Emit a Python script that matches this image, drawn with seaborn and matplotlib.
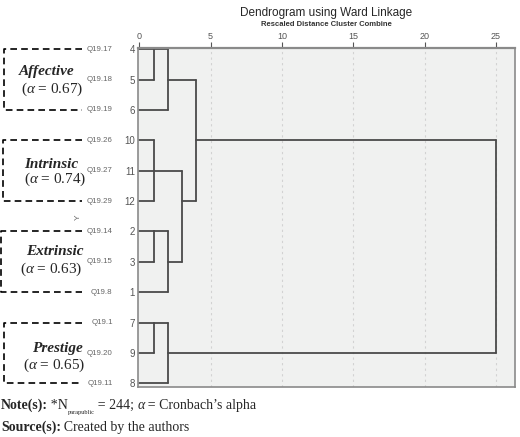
import numpy as np
import pandas as pd
import seaborn as sns
import matplotlib.pyplot as plt
from matplotlib import transforms

# leaves, top to bottom as in the SPSS output
leaf_ids = ["4", "5", "6", "10", "11", "12", "2", "3", "1", "7", "9", "8"]
item_labels = ["Q19.17", "Q19.18", "Q19.19", "Q19.26", "Q19.27", "Q19.29",
               "Q19.14", "Q19.15", "Q19.8", "Q19.1", "Q19.20", "Q19.11"]

# merges (SPSS style: node line drawn at the row of one leaf)
merge_names = ["m1", "m2", "m3", "m4", "m5", "m6", "m7", "m8", "m9", "m10"]
merge_children = [["4", "5"], ["m1", "6"], ["10", "11", "12"], ["2", "3"], ["m4", "1"],
                  ["7", "9"], ["m6", "8"], ["m3", "m5"], ["m2", "m8"], ["m9", "m7"]]
merge_dist = [1, 2, 1, 1, 2, 1, 2, 3, 4, 25]
merge_row = ["4", "5", "11", "2", "3", "7", "9", "12", "10", "10"]

# factor groups
group_names = ["Affective", "Intrinsic", "Extrinsic", "Prestige"]
group_alpha = ["0.67", "0.74", "0.63", "0.65"]
group_first = ["4", "10", "2", "7"]
group_last = ["6", "12", "1", "8"]

x_ticks = [0, 5, 10, 15, 20, 25]

sns.set_style("white")
plt.rcParams['font.family'] = ['Liberation Sans', 'DejaVu Sans']
plt.rcParams['mathtext.fontset'] = 'custom'
plt.rcParams['mathtext.rm'] = 'Liberation Serif'
plt.rcParams['mathtext.it'] = 'Liberation Serif:italic'
plt.rcParams['mathtext.bf'] = 'Liberation Serif:bold'

# build segments from the merge table
pos = {leaf: i for i, leaf in enumerate(leaf_ids)}
xpos = {leaf: 0 for leaf in leaf_ids}
rows = []
seg = 0
for name, kids, d, node in zip(merge_names, merge_children, merge_dist, merge_row):
    ys = []
    for k in kids:
        rows.append((seg, xpos[k], pos[k]))
        rows.append((seg, d, pos[k]))
        ys.append(pos[k])
        seg += 1
    rows.append((seg, d, min(ys)))
    rows.append((seg, d, max(ys)))
    seg += 1
    pos[name] = pos[node]
    xpos[name] = d
seg_df = pd.DataFrame(rows, columns=["seg", "x", "y"])

fig = plt.figure(figsize=(5.2, 4.37), dpi=100)
ax = fig.add_axes([0.266, 0.115, 0.724, 0.776])
ax.set_facecolor("#f0f1f0")

for t in x_ticks[1:]:
    ax.axvline(t, color="#d2d2d2", lw=0.8, ls=(0, (2, 3)), zorder=0)

sns.lineplot(data=seg_df, x="x", y="y", units="seg", estimator=None, sort=False,
             color="#4a4a4a", lw=1.3, ax=ax, legend=False)

ax.set_xlim(-0.07, 26.33)
ax.set_ylim(11.11, -0.05)
ax.xaxis.tick_top()
ax.set_xticks(x_ticks)
ax.set_xticklabels([str(t) for t in x_ticks])
ax.set_yticks(range(len(leaf_ids)))
ax.set_yticklabels(leaf_ids)
ax.tick_params(axis="x", labelsize=6.5, colors="#555555", length=4, width=0.8, pad=1)
ax.tick_params(axis="y", labelsize=7, colors="#555555", length=2, width=0.8, pad=0.5)
ax.set_xlabel("")
ax.set_ylabel("Y", fontsize=6, color="#666666", labelpad=0)
ax.yaxis.set_label_coords(-0.15, 0.5)
for s in ax.spines.values():
    s.set_color("#8a8a8a")
    s.set_linewidth(1.2)
ax.spines["top"].set_linewidth(1.6)

ax.text(0.5, 1.102, "Dendrogram using Ward Linkage", transform=ax.transAxes,
        ha="center", va="center", fontsize=8.5)
ax.text(0.5, 1.067, "Rescaled Distance Cluster Combine", transform=ax.transAxes,
        ha="center", va="center", fontsize=5.5, fontweight="bold", color="#333333")

blend = transforms.blended_transform_factory(ax.transAxes, ax.transData)
for i, lab in enumerate(item_labels):
    ax.text(-0.068, i, lab, transform=blend, ha="right", va="center",
            fontsize=5.7, color="#666666")

# dashed brackets with factor names (label placement tweaked per box)
box_left = [-0.357, -0.360, -0.365, -0.357]
name_x = [-0.244, -0.232, -0.222, -0.214]
alpha_x = [-0.228, -0.220, -0.231, -0.222]
name_dy = [0.75, 0.78, 0.65, 0.85]
alpha_dy = [1.31, 1.30, 1.24, 1.41]
for k, (name, a, f, l) in enumerate(zip(group_names, group_alpha, group_first, group_last)):
    y0 = leaf_ids.index(f)
    y1 = leaf_ids.index(l)
    ax.plot([-0.150, box_left[k], box_left[k], -0.150], [y0, y0, y1, y1], transform=blend,
            color="black", lw=1.2, ls=(0, (4, 2.5)), clip_on=False)
    ax.text(name_x[k], y0 + name_dy[k], name, transform=blend, ha="center", va="center",
            fontsize=11, family="Liberation Serif", style="italic", fontweight="bold")
    ax.text(alpha_x[k], y0 + alpha_dy[k], r"($\alpha$ = " + a + ")", transform=blend,
            ha="center", va="center", fontsize=11, family="Liberation Serif")


def text_run(x, y, pieces):
    # place text pieces one after another on the figure
    renderer = fig.canvas.get_renderer()
    for s, kw, dy in pieces:
        t = fig.text(x, y + dy, s, ha="left", va="baseline", family="Liberation Serif", **kw)
        bb = t.get_window_extent(renderer=renderer)
        x = bb.x1 / fig.bbox.width


fs = 10
text_run(0.002, 0.064, [
    ("Note(s):", dict(fontsize=fs, fontweight="bold"), 0),
    ("\u2009*N", dict(fontsize=fs), 0),
    ("parapublic", dict(fontsize=4.6), -0.011),
    ("\u2009= 244; ", dict(fontsize=fs), 0),
    ("α", dict(fontsize=fs, style="italic"), 0),
    ("\u2009= Cronbach’s alpha", dict(fontsize=fs), 0),
])
text_run(0.002, 0.014, [
    ("Source(s):", dict(fontsize=fs, fontweight="bold"), 0),
    ("\u2009Created by the authors", dict(fontsize=fs), 0),
])

fig.savefig("out.png", dpi=100)
